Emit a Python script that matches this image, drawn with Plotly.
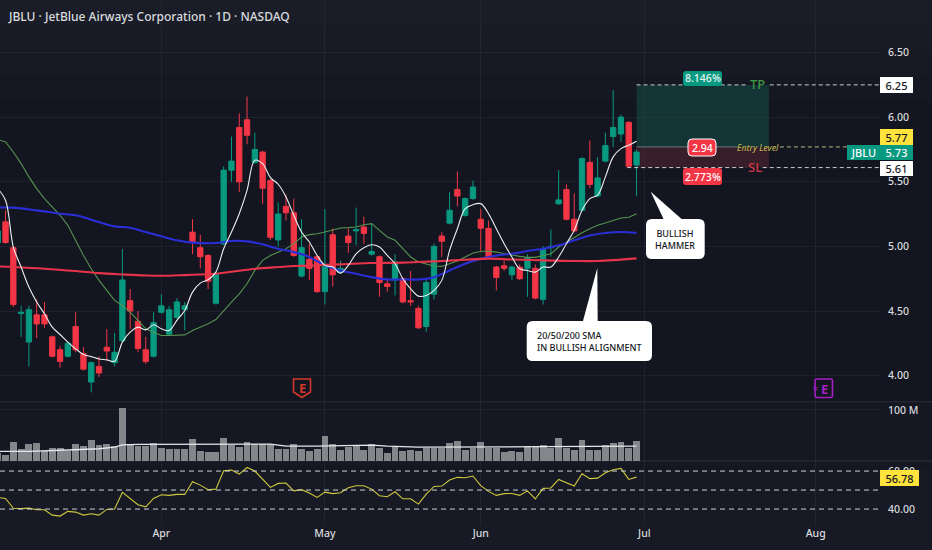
# JBLU daily chart with SMA, volume and RSI panes
import plotly.graph_objects as go

W, H = 932, 550
BG = "#131620"
RED = "#f23645"
GREEN = "#089981"
FONT = "Noto Sans"

TITLE = "JBLU · JetBlue Airways Corporation · 1D · NASDAQ"

opens = [5.03, 5.19, 4.99, 4.48, 4.26, 4.47, 4.47, 4.30, 4.20, 4.15, 4.38, 4.17, 3.95, 4.07, 4.22, 4.10, 4.27,
         4.58, 4.42, 4.20, 4.15, 4.49, 4.32, 4.45, 4.51, 5.11, 4.99, 4.93, 4.56, 5.02, 5.59, 5.92, 5.98, 5.65,
         5.73, 5.51, 5.05, 5.31, 5.26, 4.77, 4.90, 4.92, 4.65, 5.09, 4.80, 5.08, 5.12, 5.15, 4.94, 4.92, 4.71,
         4.74, 4.75, 4.58, 4.52, 4.38, 4.63, 5.08, 5.18, 5.44, 5.24, 5.37, 5.21, 5.14, 4.84, 4.85, 4.78, 4.84,
         4.83, 4.83, 4.59, 4.99, 5.33, 5.44, 5.21, 5.28, 5.65, 5.39, 5.66, 5.85, 5.87, 5.96, 5.63]
highs = [5.14, 5.28, 5.00, 4.54, 4.54, 4.59, 4.57, 4.31, 4.23, 4.26, 4.49, 4.22, 4.11, 4.15, 4.36, 4.33, 4.98,
         4.67, 4.50, 4.30, 4.49, 4.63, 4.54, 4.60, 4.57, 5.21, 5.09, 4.94, 4.80, 5.62, 5.85, 6.03, 6.16, 5.88,
         5.74, 5.52, 5.34, 5.40, 5.37, 5.21, 5.02, 4.93, 5.29, 5.14, 4.89, 5.14, 5.30, 5.23, 5.18, 4.93, 4.75,
         4.94, 4.76, 4.81, 4.54, 4.75, 5.02, 5.11, 5.42, 5.58, 5.38, 5.51, 5.29, 5.20, 4.85, 4.89, 4.85, 4.86,
         4.94, 4.86, 5.00, 5.13, 5.59, 5.48, 5.41, 5.69, 5.82, 5.69, 5.88, 6.21, 6.02, 5.97, 5.75]
lows = [4.98, 5.02, 4.53, 4.30, 4.07, 4.29, 4.37, 4.14, 4.06, 4.14, 4.18, 4.04, 3.87, 3.99, 4.12, 4.07, 4.26,
        4.36, 4.18, 4.09, 4.14, 4.48, 4.31, 4.44, 4.35, 4.94, 4.83, 4.67, 4.55, 5.01, 5.50, 5.42, 5.79, 5.64,
        5.33, 5.05, 5.00, 5.20, 4.92, 4.76, 4.74, 4.64, 4.55, 4.69, 4.79, 4.95, 5.01, 5.02, 4.93, 4.61, 4.65,
        4.62, 4.56, 4.54, 4.36, 4.34, 4.59, 4.92, 5.17, 5.31, 5.23, 5.36, 4.96, 4.91, 4.66, 4.81, 4.74, 4.74,
        4.61, 4.59, 4.55, 4.92, 5.32, 5.20, 5.11, 5.27, 5.45, 5.38, 5.65, 5.77, 5.81, 5.61, 5.39]
closes = [5.12, 5.03, 4.55, 4.49, 4.51, 4.40, 4.40, 4.15, 4.11, 4.25, 4.20, 4.05, 4.10, 4.02, 4.19, 4.18, 4.74,
          4.50, 4.21, 4.11, 4.41, 4.54, 4.51, 4.57, 4.54, 5.03, 4.92, 4.73, 4.79, 5.59, 5.66, 5.50, 5.86, 5.75,
          5.45, 5.07, 5.25, 5.26, 4.93, 4.99, 4.83, 4.65, 4.85, 4.78, 4.83, 5.03, 5.13, 5.10, 4.96, 4.72, 4.69,
          4.88, 4.57, 4.57, 4.37, 4.72, 5.00, 5.04, 5.28, 5.39, 5.37, 5.46, 5.14, 4.92, 4.76, 4.83, 4.84, 4.75,
          4.91, 4.60, 4.98, 5.00, 5.36, 5.21, 5.12, 5.68, 5.48, 5.53, 5.78, 5.92, 6.00, 5.62, 5.73]

sma_white = [5.447, 5.357, 4.995, 4.84, 4.685, 4.569, 4.478, 4.375, 4.318, 4.259, 4.207, 4.163, 4.147, 4.129,
             4.122, 4.111, 4.259, 4.336, 4.375, 4.354, 4.393, 4.362, 4.349, 4.427, 4.504, 4.646, 4.716, 4.742,
             4.801, 4.982, 5.111, 5.253, 5.434, 5.667, 5.641, 5.533, 5.481, 5.383, 5.241, 5.111, 5.034, 4.93,
             4.853, 4.84, 4.793, 4.853, 4.943, 4.99, 5.013, 4.995, 4.93, 4.866, 4.75, 4.672, 4.615, 4.62, 4.659,
             4.737, 4.969, 5.137, 5.292, 5.323, 5.331, 5.253, 5.137, 5.021, 4.918, 4.827, 4.814, 4.801, 4.84,
             4.84, 4.918, 5.021, 5.124, 5.279, 5.37, 5.396, 5.538, 5.693, 5.757, 5.783, 5.814]
sma_green = [5.827, 5.809, 5.731, 5.641, 5.538, 5.447, 5.37, 5.305, 5.241, 5.163, 5.047, 4.93, 4.827, 4.737,
             4.659, 4.582, 4.543, 4.491, 4.427, 4.362, 4.336, 4.31, 4.31, 4.31, 4.315, 4.349, 4.375, 4.401,
             4.434, 4.504, 4.569, 4.633, 4.711, 4.814, 4.892, 4.93, 4.956, 4.982, 5.021, 5.073, 5.091, 5.098,
             5.111, 5.129, 5.142, 5.145, 5.15, 5.168, 5.176, 5.124, 5.073, 5.047, 4.982, 4.918, 4.879, 4.861,
             4.848, 4.845, 4.866, 4.887, 4.918, 4.949, 4.961, 4.964, 4.956, 4.943, 4.933, 4.923, 4.915, 4.915,
             4.93, 4.943, 4.995, 5.034, 5.073, 5.106, 5.137, 5.163, 5.181, 5.202, 5.22, 5.225, 5.253]
blue_idx = [0, 2, 5, 8, 10, 13, 15, 17, 19, 21, 23, 25, 28, 30, 32, 34, 36, 38, 40, 42, 44, 46, 48, 50, 52, 54,
            56, 58, 60, 62, 64, 66, 68, 70, 72, 74, 76, 78, 80, 82]
sma_blue = [5.30, 5.30, 5.279, 5.253, 5.241, 5.189, 5.155, 5.145, 5.111, 5.078, 5.047, 5.029, 5.026, 5.042,
            5.039, 5.016, 4.982, 4.956, 4.918, 4.853, 4.814, 4.788, 4.762, 4.744, 4.744, 4.744, 4.762, 4.814,
            4.866, 4.905, 4.93, 4.943, 4.964, 4.982, 5.008, 5.047, 5.085, 5.104, 5.111, 5.104]
red_idx = [0, 2, 6, 10, 13, 16, 19, 22, 24, 26, 28, 30, 32, 34, 36, 38, 40, 42, 44, 48, 52, 54, 57, 60, 63, 66,
           70, 74, 77, 82]
sma_red = [4.845, 4.84, 4.827, 4.809, 4.793, 4.783, 4.775, 4.773, 4.778, 4.783, 4.788, 4.804, 4.819, 4.832, 4.84,
           4.848, 4.85, 4.858, 4.861, 4.871, 4.874, 4.879, 4.887, 4.897, 4.905, 4.899, 4.892, 4.887, 4.887, 4.907]

volume = [17, 12.4, 37, 25, 34, 36, 21, 25.5, 25.5, 20, 33, 30, 42, 31, 34, 30, 105, 33, 29, 29, 35, 27, 25,
          23.5, 23.5, 43, 20, 18, 18, 46, 31, 28, 38, 33, 33, 33, 24, 24, 34, 24, 20, 25, 49, 34, 21.5, 28, 29,
          23, 34, 27, 16, 29, 20, 23, 20, 27, 27, 26, 36, 39, 23, 27, 37, 26, 27, 18, 20, 18, 30, 29, 32, 25.5,
          46, 26, 21.5, 41, 23, 21.5, 31, 36, 37, 25.5, 40]
vol_ma_idx = [0, 4, 9, 13, 15, 16, 18, 35, 37, 41, 48, 50, 54, 60, 70, 82]
vol_ma = [19, 19, 21.5, 24, 27, 31.5, 32.7, 33, 29, 29, 31, 29, 27, 27, 28, 29]

rsi = [46.1, 45.6, 40.4, 40.2, 40.5, 39.6, 39.6, 36.8, 36.3, 38.8, 38.4, 36.8, 37.5, 36.8, 39.8, 40.0, 48.8, 45.3,
       42.3, 41.2, 45.6, 47.5, 47.2, 47.7, 47.7, 54.4, 52.6, 50.2, 50.5, 60.2, 60.5, 58.4, 61.9, 60.0, 55.8, 51.4,
       53.5, 53.7, 49.6, 50.2, 48.4, 46.1, 48.9, 48.1, 48.6, 51.2, 52.3, 52.3, 50.5, 47.0, 46.5, 49.1, 45.4, 45.4,
       42.6, 47.9, 51.9, 52.1, 55.3, 56.7, 56.5, 57.4, 52.3, 49.3, 47.2, 48.1, 48.2, 47.2, 49.6, 45.3, 50.9, 51.1,
       55.6, 53.7, 52.1, 58.6, 56.0, 56.3, 59.1, 60.7, 61.4, 55.6, 56.8]

month_idx = [21, 42, 62, 83, 105]
month_labels = ["Apr", "May", "Jun", "Jul", "Aug"]
price_ticks = [4.0, 4.5, 5.0, 5.5, 6.0, 6.5]
rsi_levels = [40, 50, 60]

TP, ENTRY, SL = 6.25, 5.77, 5.61
POS_START, POS_END = 82, 99
X_RANGE = [0.289, 113.25]

# background is a little lighter at the top and under the panes
BG_BANDS = [(0, 25, "#1a1d28"), (25, 50, "#181b26"), (50, 75, "#171a24"), (75, 100, "#151822"),
            (401, 470, "#151823"), (470, 550, "#171a25")]


def px(x):
    return x / W


def py(y):
    return 1 - y / H


def rounded(x0, y0, x1, y1, r):
    # rounded box path, pixel input
    a, b, c, d = px(x0), py(y0), px(x1), py(y1)
    rx, ry = r / W, r / H
    return (f"M {a + rx} {b} L {c - rx} {b} Q {c} {b} {c} {b - ry} L {c} {d + ry} Q {c} {d} {c - rx} {d} "
            f"L {a + rx} {d} Q {a} {d} {a} {d + ry} L {a} {b - ry} Q {a} {b} {a + rx} {b} Z")


def polygon(points):
    return "M " + " L ".join(f"{px(x)} {py(y)}" for x, y in points) + " Z"


def path_shape(path, fill, line="rgba(0,0,0,0)", width=0):
    return dict(type="path", path=path, xref="paper", yref="paper", fillcolor=fill,
                line=dict(color=line, width=width), layer="above")


def level_line(x0, x1, y, color, dash="4px,3px", width=1):
    return dict(type="line", x0=x0, x1=x1, y0=y, y1=y, xref="x", yref="y", layer="above",
                line=dict(color=color, width=width, dash=dash))


def label(x, y, text, color, size=11, bg=None, w=None, h=None, anchor="center", weight=500, **kw):
    return dict(x=px(x), y=py(y), xref="paper", yref="paper", text=text, showarrow=False, xanchor=anchor,
                yanchor="middle", align=kw.pop("align", anchor), bgcolor=bg, width=w, height=h, borderpad=0,
                borderwidth=0, font=dict(family=FONT, size=size, color=color, weight=weight), **kw)


fig = go.Figure()
bars = list(range(len(closes)))

fig.add_trace(go.Bar(x=bars, y=volume, yaxis="y2", marker=dict(color="#85868b", line=dict(width=0)), width=0.88))
fig.add_trace(go.Scatter(x=vol_ma_idx, y=vol_ma, yaxis="y2", mode="lines", line=dict(color="#e6e7ea", width=1.3)))

fig.add_trace(go.Candlestick(
    x=bars, open=opens, high=highs, low=lows, close=closes, whiskerwidth=0,
    increasing=dict(line=dict(color=GREEN, width=1), fillcolor=GREEN),
    decreasing=dict(line=dict(color=RED, width=1), fillcolor=RED),
))
fig.add_trace(go.Scatter(x=bars, y=sma_green, mode="lines", line=dict(color="#55934f", width=1.1)))
fig.add_trace(go.Scatter(x=blue_idx, y=sma_blue, mode="lines", line=dict(color="#2a2ed6", width=2.1, shape="spline")))
fig.add_trace(go.Scatter(x=red_idx, y=sma_red, mode="lines", line=dict(color="#e5344a", width=2.1, shape="spline")))
fig.add_trace(go.Scatter(x=bars, y=sma_white, mode="lines", line=dict(color="#eceef0", width=1.1, shape="spline")))

fig.add_trace(go.Scatter(x=bars, y=rsi, yaxis="y3", mode="lines", line=dict(color="#d0c83c", width=1.1)))

shapes = [dict(type="rect", x0=0, x1=1, y0=py(y1), y1=py(y0), xref="paper", yref="paper", layer="below",
               fillcolor=color, line=dict(width=0)) for y0, y1, color in BG_BANDS]
shapes += [
    # risk/reward zones
    dict(type="rect", x0=POS_START, x1=POS_END, y0=ENTRY, y1=TP, xref="x", yref="y", layer="below",
         fillcolor="#133536", line=dict(width=0)),
    dict(type="rect", x0=POS_START, x1=POS_END, y0=SL, y1=ENTRY, xref="x", yref="y", layer="below",
         fillcolor="#381e29", line=dict(width=0)),
    level_line(POS_START, 96.1, TP, "#c9ccd1"),
    level_line(99.1, X_RANGE[1], TP, "#c9ccd1"),
    level_line(POS_START, 95.0, ENTRY, "#6a7a78", dash="solid"),
    level_line(100.4, X_RANGE[1], ENTRY, "#b9b48a"),
    level_line(80.8, 96.1, SL, "#c9ccd1"),
    level_line(98.2, X_RANGE[1], SL, "#c9ccd1"),
    # pane separators
    dict(type="line", x0=0, x1=1, y0=py(401.7), y1=py(401.7), xref="paper", yref="paper",
         line=dict(color="#2a2e39", width=1), layer="below"),
    dict(type="line", x0=0, x1=1, y0=py(461), y1=py(461), xref="paper", yref="paper",
         line=dict(color="#2a2e39", width=1), layer="below"),
    # pills
    path_shape(rounded(683, 71, 722, 86, 3), GREEN),
    path_shape(rounded(688, 139, 716, 156, 4), RED, "#ffffff", 1),
    path_shape(rounded(683, 168, 722, 185, 3), RED),
    # callouts
    path_shape(polygon([(650.7, 191.7), (664, 220), (682.7, 220)]), "#ffffff"),
    path_shape(rounded(646, 219, 704.7, 259, 6), "#ffffff"),
    path_shape(polygon([(597.3, 268), (582.7, 322), (597.7, 322)]), "#ffffff"),
    path_shape(rounded(526.7, 321, 652, 361, 6), "#ffffff"),
    # earnings markers
    path_shape(polygon([(293.5, 379), (310.5, 379), (310.5, 392), (302, 397.5), (293.5, 392)]), "rgba(0,0,0,0)",
               "#d2392b", 1.6),
    path_shape(rounded(815, 379, 832.5, 397.5, 2), "rgba(0,0,0,0)", "#a51fc4", 1.6),
]
for level in rsi_levels:
    shapes.append(dict(type="line", x0=X_RANGE[0], x1=X_RANGE[1], y0=level, y1=level, xref="x", yref="y3",
                       line=dict(color="#cfd1d5", width=1, dash="5px,4px"), layer="above"))

annotations = [
    label(8, 16.5, TITLE, "#d9dbde", size=12, anchor="left"),
    label(702.5, 78.5, "8.146%", "#e8f5f2", size=10.5),
    label(702, 147.5, "2.94", "#ffffff", size=10.5),
    label(702.5, 176.5, "2.773%", "#ffffff", size=10.5),
    label(757, 84, "TP", "#3f9a47", size=13),
    label(758, 147, "<i>Entry Level</i>", "#b7ad4f", size=8.5),
    label(754.5, 167, "SL", "#d23a48", size=13),
    label(896.5, 85, "6.25", "#131722", size=11, bg="#ffffff", w=33, h=16),
    label(896.5, 137, "5.77", "#131722", size=11, bg="#ffe23b", w=33, h=16),
    label(863.5, 152.5, "JBLU", "#ffffff", size=11, bg=GREEN, w=33, h=15),
    label(896.5, 152.5, "5.73", "#ffffff", size=11, bg=GREEN, w=33, h=15),
    label(896.5, 168.5, "5.61", "#131722", size=11, bg="#ffffff", w=33, h=15),
    label(899.5, 478, "56.78", "#131722", size=11, bg="#ffe23b", w=39, h=16),
    label(675, 239, "BULLISH<br>HAMMER", "#131722", size=9),
    label(537, 341, "20/50/200 SMA<br>IN BULLISH ALIGNMENT", "#131722", size=9, anchor="left"),
    label(302, 387.5, "<b>E</b>", "#d2392b", size=13),
    label(824, 388.5, "<b>E</b>", "#a51fc4", size=13),
    label(815, 388.5, "<b>=</b>", "#a51fc4", size=8),
]

axis_font = dict(family=FONT, size=10.5, color="#d9dbde", weight=500)
grid = "rgba(60,64,76,0.28)"
clear = "rgba(0,0,0,0)"

fig.update_layout(
    width=W,
    height=H,
    margin=dict(l=0, r=0, t=0, b=0),
    paper_bgcolor=BG,
    plot_bgcolor=clear,
    showlegend=False,
    boxgap=0.32,
    boxgroupgap=0,
    bargap=0,
    shapes=shapes,
    annotations=annotations,
    xaxis=dict(
        domain=[0, 880 / W], range=X_RANGE, anchor="y3", rangeslider=dict(visible=False),
        tickmode="array", tickvals=month_idx, ticktext=month_labels, showgrid=True, gridcolor=grid,
        zeroline=False, showline=False, ticks="", tickfont=axis_font,
    ),
    yaxis=dict(
        domain=[py(401.7), 1], range=[3.798, 6.907], side="right", anchor="x", tickmode="array",
        tickvals=price_ticks, ticktext=[f"{t:.2f}" for t in price_ticks], gridcolor=grid, zeroline=False,
        ticks="outside", ticklen=5, tickcolor=clear, tickfont=axis_font,
    ),
    yaxis2=dict(
        domain=[py(461), py(401.7)], range=[0, 116], side="right", anchor="x", tickmode="array",
        tickvals=[100], ticktext=["100 M"], gridcolor=grid, zeroline=False,
        ticks="outside", ticklen=5, tickcolor=clear, tickfont=axis_font,
    ),
    yaxis3=dict(
        domain=[py(525), py(461)], range=[31.6, 65.3], side="right", anchor="x", tickmode="array",
        tickvals=[40, 60], ticktext=["40.00", "60.00"], showgrid=False, zeroline=False,
        ticks="outside", ticklen=5, tickcolor=clear, tickfont=axis_font,
    ),
)

fig.write_html("out.html", config=dict(displayModeBar=False), post_script="document.body.style.margin='0';")
